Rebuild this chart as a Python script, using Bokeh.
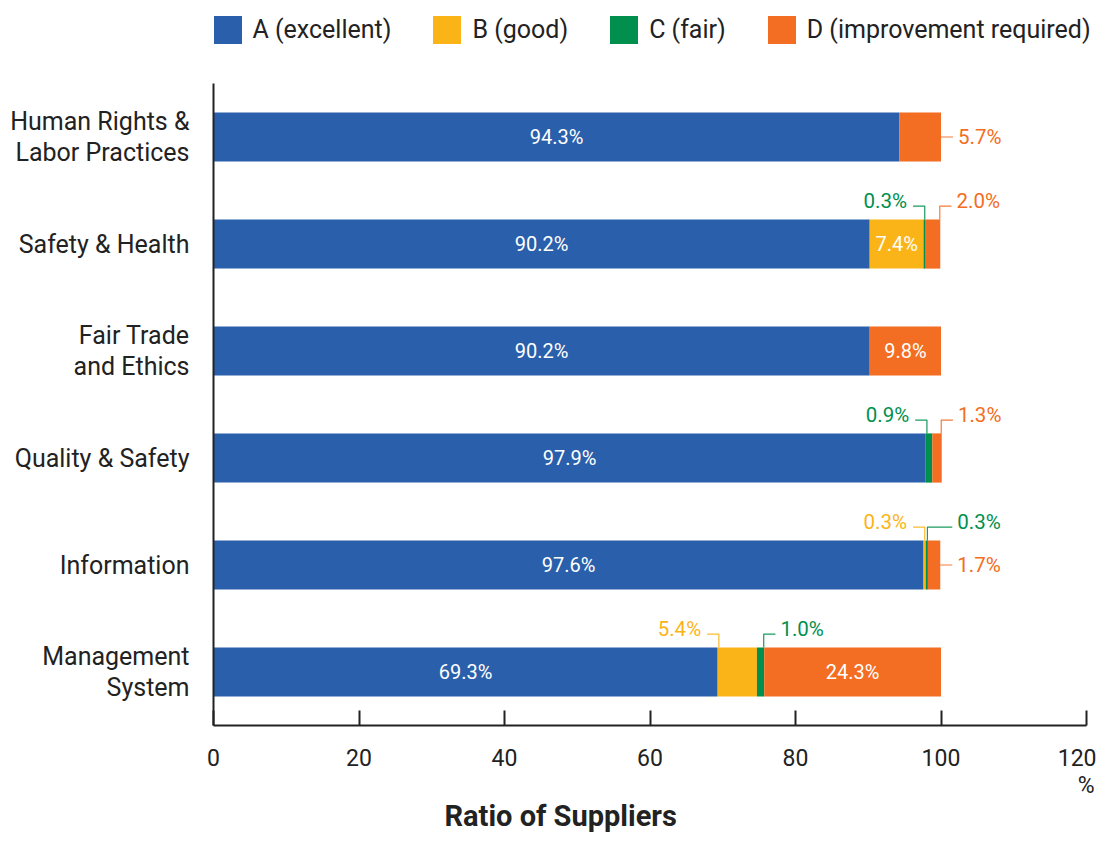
from bokeh.plotting import figure
from bokeh.models import Range1d, FixedTicker, Legend, LegendItem, Title
from bokeh.embed import file_html
from bokeh.resources import INLINE
from bokeh.core.properties import value

# ---------------- data ----------------
categories = [
    "Human Rights &\nLabor Practices",
    "Safety & Health",
    "Fair Trade\nand Ethics",
    "Quality & Safety",
    "Information",
    "Management\nSystem",
]
series_names = ["A (excellent)", "B (good)", "C (fair)", "D (improvement required)"]
grade_a = [94.3, 90.2, 90.2, 97.9, 97.6, 69.3]
grade_b = [0.0, 7.4, 0.0, 0.0, 0.3, 5.4]
grade_c = [0.0, 0.3, 0.0, 0.9, 0.3, 1.0]
grade_d = [5.7, 2.0, 9.8, 1.3, 1.7, 24.3]
x_ticks = [0, 20, 40, 60, 80, 100, 120]
unit_label = "%"
x_title = "Ratio of Suppliers"

# label placement per series (style)
place_a = ["in", "in", "in", "in", "in", "in"]
place_b = [None, "in", None, None, "upleft", "upleft"]
place_c = [None, "upleft", None, "upleft", "upright", "upright"]
place_d = ["right", "upright", "in", "upright", "right", "in"]

colors = ["#2a5fab", "#fbb418", "#008f4d", "#f36d22"]
text_dark = "#222222"
FONT = "Roboto"

# ---------------- layout ----------------
W, H = 1096, 832
BL, BR, BT, BB = 213, 0, 0, 107
TOP_GAP = 83            # px between canvas top and top of bar area
RIGHT_GAP = 10          # px between x=120 and canvas right edge
FW, FH = W - BL - BR, H - BT - BB
X0, X1 = 0, 120
Y0, Y1 = -0.5, 5.5
PX = (X1 - X0) / (FW - RIGHT_GAP)
PY = (Y1 - Y0) / (FH - TOP_GAP)
BAR_H = 0.46

p = figure(width=W, height=H, output_backend="svg", toolbar_location=None,
           x_range=Range1d(X0, X1 + RIGHT_GAP * PX), y_range=Range1d(Y0, Y1 + TOP_GAP * PY),
           min_border_left=BL, min_border_right=BR, min_border_top=BT, min_border_bottom=BB)
p.outline_line_color = None
p.xgrid.visible = False
p.ygrid.visible = False
p.background_fill_color = "white"
p.border_fill_color = "white"

n = len(categories)
ys = [n - 1 - i for i in range(n)]
series = [grade_a, grade_b, grade_c, grade_d]
places = [place_a, place_b, place_c, place_d]

cum = [0.0] * n
renderers = []
segs = []
for s, col in zip(series, colors):
    left = cum[:]
    right = [c + v for c, v in zip(cum, s)]
    r = p.hbar(y=ys, left=left, right=right, height=BAR_H, fill_color=col, line_color=None)
    renderers.append(r)
    segs.append((left, right))
    cum = right
bar_end = cum

# labels
in_x, in_y, in_t = [], [], []
lt_x, lt_y, lt_t, lt_c = [], [], [], []   # left aligned outside
rt_x, rt_y, rt_t, rt_c = [], [], [], []   # right aligned outside
lx, ly, lc = [], [], []
for si, (s, col, pl) in enumerate(zip(series, colors, places)):
    left, right = segs[si]
    for i in range(n):
        pos = pl[i]
        if pos is None:
            continue
        y = ys[i]
        txt = f"{s[i]:.1f}%"
        top = y + BAR_H / 2
        if pos == "in":
            in_x.append((left[i] + right[i]) / 2)
            in_y.append(y)
            in_t.append(txt)
        elif pos == "upleft":
            xs = left[i] + 1.2 * PX
            ye = top + 13.3 * PY
            xe = xs - 11.7 * PX
            lx.append([xs, xs, xe]); ly.append([top, ye, ye]); lc.append(col)
            rt_x.append(xe - 6.0 * PX); rt_y.append(top + 18.0 * PY); rt_t.append(txt); rt_c.append(col)
        elif pos == "upright":
            xs = right[i] - 0.5 * PX
            ye = top + 13.3 * PY
            has_right = any(places[k][i] == "right" for k in range(len(series)))
            xe = (bar_end[i] + 12 * PX) if has_right else xs + 11.7 * PX
            lx.append([xs, xs, xe]); ly.append([top, ye, ye]); lc.append(col)
            lt_x.append(xe + 5.0 * PX); lt_y.append(top + 18.0 * PY); lt_t.append(txt); lt_c.append(col)
        elif pos == "right":
            xs = bar_end[i]
            xe = xs + 12 * PX
            lx.append([xs, xe]); ly.append([y, y]); lc.append(col)
            lt_x.append(xe + 5.0 * PX); lt_y.append(y); lt_t.append(txt); lt_c.append(col)

p.multi_line(xs=lx, ys=ly, line_color=lc, line_width=1.2, line_alpha=0.9)
p.text(x=in_x, y=in_y, text=in_t, text_color="white", text_font=value(FONT),
       text_font_size="20px", text_align="center", text_baseline="middle")
p.text(x=lt_x, y=lt_y, text=lt_t, text_color=lt_c, text_font=value(FONT),
       text_font_size="20.5px", text_align="left", text_baseline="middle")
p.text(x=rt_x, y=rt_y, text=rt_t, text_color=rt_c, text_font=value(FONT),
       text_font_size="20.5px", text_align="right", text_baseline="middle")

# axes
xa = p.xaxis[0]
xa.ticker = FixedTicker(ticks=x_ticks)
xa.bounds = (X0, X1)
xa.minor_tick_line_color = None
xa.major_tick_in = 15
xa.major_tick_out = 0
xa.major_tick_line_width = 2
xa.major_tick_line_color = text_dark
xa.axis_line_width = 2
xa.axis_line_color = text_dark
xa.major_label_text_font = FONT
xa.major_label_text_font_size = "23px"
xa.major_label_text_color = text_dark
xa.major_label_standoff = 23

ya = p.yaxis[0]
ya.ticker = FixedTicker(ticks=ys)
ya.bounds = (Y0, Y1)
ya.major_label_overrides = {y: c for y, c in zip(ys, categories)}
ya.minor_tick_line_color = None
ya.major_tick_line_color = None
ya.major_tick_in = 0
ya.major_tick_out = 0
ya.axis_line_width = 2
ya.axis_line_color = text_dark
ya.major_label_text_font = FONT
ya.major_label_text_font_size = "25px"
ya.major_label_text_color = text_dark
ya.major_label_text_align = "right"
ya.major_label_text_line_height = 1.05
ya.major_label_standoff = 24

# unit and axis title (below the axis)
p.add_layout(Title(text=unit_label, align="right", offset=2, standoff=2,
                   text_font=FONT, text_font_size="23px", text_font_style="normal",
                   text_color=text_dark), "below")
p.add_layout(Title(text=x_title, align="left", offset=231, standoff=-6,
                   text_font=FONT, text_font_size="29px", text_font_style="bold",
                   text_color=text_dark), "below")

# legend (inside the extended frame, above the bars)
GLYPH = 35   # bar legend swatches are inset by 10% on each side -> 28px squares
items = [LegendItem(label=nm, renderers=[r]) for nm, r in zip(series_names, renderers)]
legend = Legend(items=items, orientation="horizontal", location=(-3.5, FH - 11.5 - GLYPH),
                glyph_width=GLYPH, glyph_height=GLYPH, label_standoff=8, spacing=38,
                padding=0, margin=0, border_line_color=None, background_fill_alpha=0,
                label_text_font=FONT, label_text_font_size="25px", label_text_color=text_dark,
                label_height=GLYPH)
p.add_layout(legend, "center")

open("out.html", "w").write(file_html(p, INLINE))
